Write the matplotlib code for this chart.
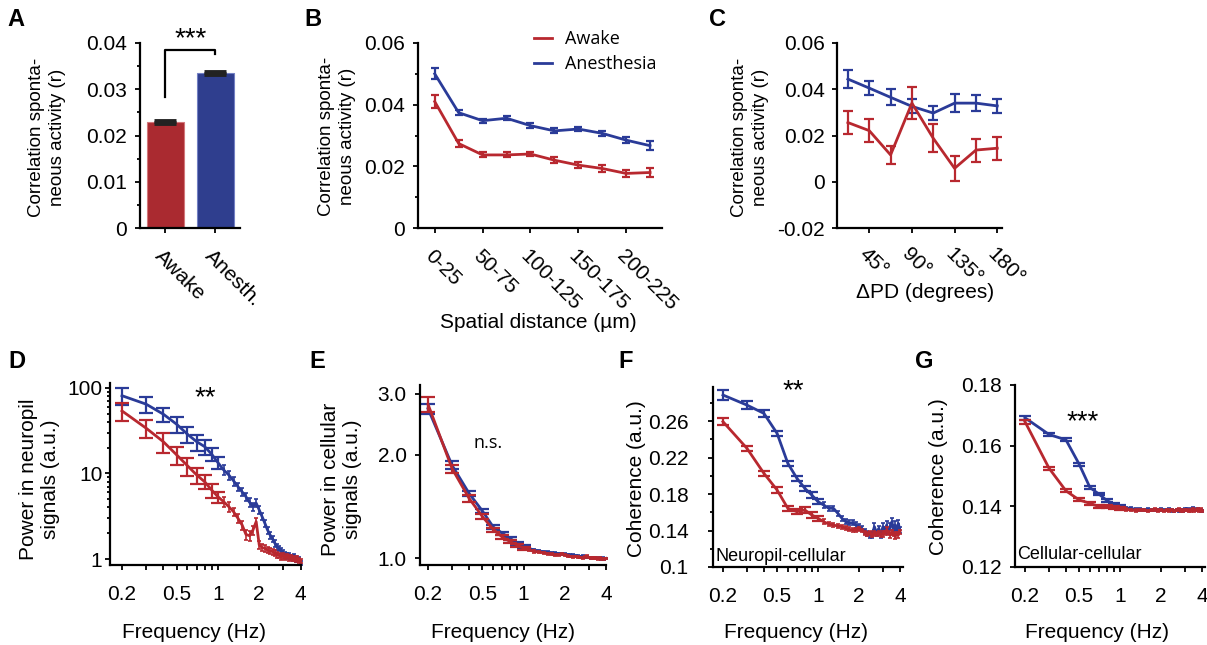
import matplotlib
matplotlib.use("Agg")
import matplotlib.pyplot as plt
from matplotlib.lines import Line2D
from matplotlib.ticker import FixedLocator, FixedFormatter, NullFormatter

plt.rcParams['font.family'] = ['Liberation Sans', 'DejaVu Sans']

W, H = 1207, 645
RED = '#B8282F'
BLUE = '#2A3B98'

# ---- A: mean correlation
bar_names = ['Awake', 'Anesth.']
bar_vals = [0.0229, 0.0335]
bar_err = [0.0003, 0.0002]

# ---- B: correlation vs spatial distance
dist_labels = ['0-25', '50-75', '100-125', '150-175', '200-225']
dist_awake = [0.0410, 0.0274, 0.0237, 0.0237, 0.0240, 0.0220, 0.0204, 0.0193, 0.0177, 0.0180]
dist_awake_err = [0.0020, 0.0010, 0.0008, 0.0008, 0.0008, 0.0009, 0.0009, 0.0010, 0.0011, 0.0015]
dist_anest = [0.0500, 0.0374, 0.0348, 0.0356, 0.0332, 0.0315, 0.0321, 0.0307, 0.0285, 0.0267]
dist_anest_err = [0.0018, 0.0008, 0.0007, 0.0007, 0.0007, 0.0008, 0.0008, 0.0009, 0.0010, 0.0015]

# ---- C: correlation vs preferred direction difference
dpd = [22.5, 45, 67.5, 90, 112.5, 135, 157.5, 180]
dpd_labels = ['45°', '90°', '135°', '180°']
dpd_awake = [0.0256, 0.0221, 0.0116, 0.0340, 0.0188, 0.0058, 0.0137, 0.0145]
dpd_awake_err = [0.0050, 0.0050, 0.0040, 0.0070, 0.0060, 0.0055, 0.0050, 0.0050]
dpd_anest = [0.0444, 0.0405, 0.0365, 0.0326, 0.0297, 0.0340, 0.0340, 0.0328]
dpd_anest_err = [0.0040, 0.0030, 0.0035, 0.0030, 0.0030, 0.0040, 0.0035, 0.0030]

# ---- D-G: spectra
freq = [0.2, 0.3, 0.4, 0.5, 0.6, 0.7, 0.8, 0.9, 1.0,
        1.1, 1.2, 1.3, 1.4, 1.5, 1.6, 1.7, 1.8, 1.9, 2.0,
        2.1, 2.2, 2.3, 2.4, 2.5, 2.6, 2.7, 2.8, 2.9, 3.0,
        3.1, 3.2, 3.3, 3.4, 3.5, 3.6, 3.7, 3.8, 3.9, 4.0]
freq_labels = ['0.2', '', '', '0.5', '', '', '', '', '1', '2', '', '4']

neu_anest = [81, 64.5, 49.3, 37.6, 28.7, 23.5, 20.6, 16.8, 13.4,
             11.0, 9.6, 8.2, 7.0, 6.1, 5.35, 4.6, 4.1, 4.5, 3.74,
             3.12, 2.61, 2.18, 1.91, 1.72, 1.53, 1.39, 1.33, 1.24, 1.17,
             1.12, 1.08, 1.10, 1.05, 1.03, 1.06, 1.00, 0.98, 1.00, 0.90]
neu_anest_err = [18, 13, 9, 8, 6, 5, 4, 3, 2.2,
                 1.5, 1.2, 1.0, 0.8, 0.7, 0.55, 0.5, 0.45, 0.5, 0.4,
                 0.3, 0.25, 0.2, 0.18, 0.15, 0.13, 0.12, 0.1, 0.1, 0.09,
                 0.08, 0.08, 0.08, 0.07, 0.07, 0.07, 0.07, 0.06, 0.06, 0.06]
neu_awake = [53.8, 33.8, 23.5, 16.5, 12.3, 9.6, 8.0, 6.4, 5.35,
             4.68, 4.09, 3.57, 2.99, 2.50, 1.94, 1.87, 2.18, 2.73, 1.46,
             1.36, 1.33, 1.27, 1.24, 1.22, 1.17, 1.13, 1.11, 1.06, 1.09,
             1.05, 1.08, 1.03, 1.05, 1.00, 1.02, 0.98, 1.01, 0.97, 0.95]
neu_awake_err = [13, 8, 6, 4, 3, 2, 1.5, 1.2, 0.8,
                 0.6, 0.5, 0.4, 0.35, 0.3, 0.25, 0.25, 0.25, 0.3, 0.15,
                 0.12, 0.12, 0.1, 0.1, 0.1, 0.09, 0.09, 0.08, 0.08, 0.08,
                 0.07, 0.07, 0.07, 0.07, 0.06, 0.06, 0.06, 0.06, 0.06, 0.06]

cel_anest = [2.72, 1.86, 1.54, 1.37, 1.23, 1.18, 1.14, 1.10, 1.08,
             1.065, 1.055, 1.048, 1.042, 1.038, 1.035, 1.032, 1.030, 1.028, 1.025,
             1.022, 1.020, 1.018, 1.015, 1.012, 1.010, 1.012, 1.008, 1.005, 1.003,
             1.000, 1.000, 1.002, 0.998, 0.997, 0.999, 0.996, 0.998, 0.995, 0.997]
cel_anest_err = [0.09, 0.05, 0.03, 0.02, 0.016, 0.013, 0.011, 0.010, 0.009,
                 0.008, 0.008, 0.007, 0.007, 0.007, 0.007, 0.006, 0.006, 0.006, 0.006,
                 0.006, 0.006, 0.006, 0.006, 0.006, 0.006, 0.006, 0.006, 0.006, 0.006,
                 0.006, 0.006, 0.006, 0.006, 0.006, 0.006, 0.006, 0.006, 0.006, 0.006]
cel_awake = [2.80, 1.82, 1.49, 1.32, 1.21, 1.15, 1.115, 1.09, 1.067,
             1.055, 1.045, 1.040, 1.035, 1.030, 1.025, 1.020, 1.022, 1.028, 1.020,
             1.012, 1.010, 1.008, 1.010, 1.005, 1.003, 1.000, 1.008, 1.012, 1.004,
             1.000, 1.002, 0.998, 1.000, 0.996, 0.998, 0.995, 0.997, 0.994, 0.997]
cel_awake_err = [0.14, 0.05, 0.03, 0.02, 0.016, 0.013, 0.011, 0.010, 0.009,
                 0.008, 0.008, 0.007, 0.007, 0.007, 0.007, 0.006, 0.006, 0.006, 0.006,
                 0.006, 0.006, 0.006, 0.006, 0.006, 0.006, 0.006, 0.006, 0.006, 0.006,
                 0.006, 0.006, 0.006, 0.006, 0.006, 0.006, 0.006, 0.006, 0.006, 0.006]

nc_anest = [0.2885, 0.2775, 0.2684, 0.2465, 0.2136, 0.1972, 0.1862, 0.1789, 0.1716,
            0.1680, 0.1643, 0.1643, 0.1588, 0.1534, 0.1496, 0.1485, 0.1485, 0.1460, 0.1442,
            0.1424, 0.1387, 0.1369, 0.1350, 0.1350, 0.1442, 0.1369, 0.1424, 0.1350, 0.1442,
            0.1406, 0.1460, 0.1387, 0.1442, 0.1497, 0.1387, 0.1460, 0.1387, 0.1478, 0.1406]
nc_anest_err = [0.005, 0.004, 0.004, 0.003, 0.003, 0.003, 0.003, 0.003, 0.003,
                0.003, 0.003, 0.003, 0.003, 0.003, 0.003, 0.003, 0.003, 0.003, 0.003,
                0.003, 0.003, 0.003, 0.003, 0.003, 0.004, 0.003, 0.003, 0.003, 0.004,
                0.003, 0.004, 0.003, 0.004, 0.004, 0.003, 0.004, 0.003, 0.004, 0.003]
nc_awake = [0.2593, 0.2301, 0.2027, 0.1844, 0.1643, 0.1606, 0.1625, 0.1570, 0.1534,
            0.1496, 0.1471, 0.1460, 0.1448, 0.1442, 0.1424, 0.1413, 0.1406, 0.1406, 0.1413,
            0.1400, 0.1376, 0.1363, 0.1376, 0.1350, 0.1369, 0.1363, 0.1376, 0.1350, 0.1363,
            0.1376, 0.1406, 0.1376, 0.1350, 0.1376, 0.1363, 0.1333, 0.1369, 0.1350, 0.1387]
nc_awake_err = [0.004, 0.003, 0.003, 0.003, 0.003, 0.003, 0.003, 0.003, 0.003,
                0.003, 0.002, 0.002, 0.002, 0.002, 0.002, 0.002, 0.002, 0.002, 0.002,
                0.002, 0.002, 0.002, 0.002, 0.002, 0.003, 0.002, 0.002, 0.002, 0.003,
                0.002, 0.003, 0.002, 0.003, 0.003, 0.002, 0.003, 0.002, 0.003, 0.002]

cc_anest = [0.1692, 0.1637, 0.1619, 0.1539, 0.1462, 0.1440, 0.1419, 0.1408, 0.1399,
            0.1395, 0.1393, 0.1390, 0.1390, 0.1388, 0.1390, 0.1387, 0.1388, 0.1387, 0.1390,
            0.1388, 0.1387, 0.1389, 0.1386, 0.1385, 0.1388, 0.1384, 0.1387, 0.1386, 0.1389,
            0.1392, 0.1388, 0.1390, 0.1393, 0.1390, 0.1387, 0.1390, 0.1388, 0.1386, 0.1385]
cc_awake = [0.1679, 0.1526, 0.1451, 0.1421, 0.1410, 0.1399, 0.1399, 0.1396, 0.1393,
            0.1390, 0.1388, 0.1386, 0.1388, 0.1387, 0.1385, 0.1387, 0.1389, 0.1386, 0.1388,
            0.1385, 0.1387, 0.1386, 0.1388, 0.1384, 0.1387, 0.1389, 0.1386, 0.1385, 0.1388,
            0.1387, 0.1384, 0.1386, 0.1390, 0.1385, 0.1388, 0.1391, 0.1386, 0.1389, 0.1385]
cc_err = [0.0006, 0.0005, 0.0005, 0.0005, 0.0004, 0.0004, 0.0004, 0.0004, 0.0004,
          0.0004, 0.0004, 0.0004, 0.0004, 0.0004, 0.0004, 0.0004, 0.0004, 0.0004, 0.0004,
          0.0004, 0.0004, 0.0004, 0.0004, 0.0004, 0.0004, 0.0004, 0.0004, 0.0004, 0.0004,
          0.0004, 0.0004, 0.0004, 0.0004, 0.0004, 0.0004, 0.0004, 0.0004, 0.0004, 0.0004]

fig = plt.figure(figsize=(W / 100, H / 100), dpi=100)


def add_ax(l, t, r, b):
    # axes from pixel box (left, top, right, bottom)
    ax = fig.add_axes([l / W, 1 - b / H, (r - l) / W, (b - t) / H])
    ax.spines['top'].set_visible(False)
    ax.spines['right'].set_visible(False)
    ax.spines['left'].set_linewidth(1.6)
    ax.spines['bottom'].set_linewidth(1.6)
    ax.tick_params(which='both', direction='out', width=1.3, labelsize=15)
    ax.tick_params(which='major', length=3.5)
    ax.tick_params(which='minor', length=2.5)
    return ax


def ftext(x, y, s, **kw):
    fig.text(x / W, 1 - y / H, s, **kw)


def freq_axis(ax, xlim):
    ax.set_xscale('log')
    ax.set_xlim(*xlim)
    ax.xaxis.set_major_locator(FixedLocator([0.2, 0.3, 0.4, 0.5, 0.6, 0.7, 0.8, 0.9, 1, 2, 3, 4]))
    ax.xaxis.set_major_formatter(FixedFormatter(freq_labels))
    ax.xaxis.set_minor_locator(FixedLocator([]))
    ax.tick_params(axis='x', pad=11)


def spectrum(ax, y, e, color, cap):
    ax.plot(freq, y, color=color, lw=2, clip_on=False)
    ax.errorbar(freq[:9], y[:9], yerr=e[:9], fmt='none', ecolor=color,
                elinewidth=1.6, capsize=cap, capthick=1.6, clip_on=False)
    ax.errorbar(freq[9:], y[9:], yerr=e[9:], fmt='none', ecolor=color,
                elinewidth=1.2, capsize=1.6, capthick=1.2, clip_on=False)


# ---------------- A
ax = add_ax(140, 43, 240, 228)
ax.bar([0, 1], bar_vals, width=0.74, color=['#AA2A30', '#2F3E8E'],
       edgecolor=['#D2777B', '#7380C4'], linewidth=0.8)
ax.errorbar([0, 1], bar_vals, yerr=bar_err, fmt='none', ecolor='#222222',
            elinewidth=2, capsize=8, capthick=3.5)
ax.set_xlim(-0.5, 1.5)
ax.set_ylim(0, 0.04)
ax.set_yticks([0, 0.01, 0.02, 0.03, 0.04])
ax.set_yticklabels(['0', '0.01', '0.02', '0.03', '0.04'])
ax.set_yticks([0.005, 0.015, 0.025, 0.035], minor=True)
ax.set_xticks([0, 1])
ax.set_xticklabels(bar_names, rotation=-45, ha='left', va='top', rotation_mode='anchor')
ax.tick_params(axis='x', pad=10)
ax.tick_params(axis='y', pad=6)
ax.plot([0, 0, 1, 1], [0.0283, 0.0385, 0.0385, 0.0377], color='k', lw=1.6, clip_on=False)
ax.text(0.52, 0.0392, '***', ha='center', va='baseline', fontsize=20, clip_on=False)
ftext(47, 137, 'Correlation sponta-\nneous activity (r)', rotation=90, ha='center',
      va='center', fontsize=13.5, linespacing=1.25)

# ---------------- B
ax = add_ax(418, 43, 662, 228)
xb = list(range(len(dist_awake)))
ax.errorbar(xb, dist_anest, yerr=dist_anest_err, color=BLUE, lw=2, elinewidth=1.6,
            capsize=3, capthick=1.6)
ax.errorbar(xb, dist_awake, yerr=dist_awake_err, color=RED, lw=2, elinewidth=1.6,
            capsize=3, capthick=1.6)
ax.set_xlim(-0.7, 9.5)
ax.set_ylim(0, 0.06)
ax.set_xticks([0, 2, 4, 6, 8])
ax.set_xticklabels(dist_labels, rotation=-45, ha='left', va='top', rotation_mode='anchor')
ax.set_yticks([0, 0.02, 0.04, 0.06])
ax.set_yticklabels(['0', '0.02', '0.04', '0.06'])
ax.set_yticks([0.01, 0.03, 0.05], minor=True)
ax.tick_params(axis='x', pad=10)
ax.tick_params(axis='y', pad=6)
handles = [Line2D([], [], color=RED, lw=2), Line2D([], [], color=BLUE, lw=2)]
ax.legend(handles, ['Awake', 'Anesthesia'], loc='upper left',
          bbox_to_anchor=(534 / W, 1 - 30 / H), bbox_transform=fig.transFigure,
          frameon=False, handlelength=1.0, handletextpad=0.7, borderpad=0,
          borderaxespad=0, labelspacing=0.4, prop={'family': 'Open Sans', 'size': 13})
ftext(337, 136, 'Correlation sponta-\nneous activity (r)', rotation=90, ha='center',
      va='center', fontsize=13.5, linespacing=1.25)
ftext(538, 323, 'Spatial distance (µm)', ha='center', va='center', fontsize=15)

# ---------------- C
ax = add_ax(837, 43, 1002, 228)
ax.errorbar(dpd, dpd_anest, yerr=dpd_anest_err, color=BLUE, lw=2, elinewidth=1.6,
            capsize=3.6, capthick=1.6)
ax.errorbar(dpd, dpd_awake, yerr=dpd_awake_err, color=RED, lw=2, elinewidth=1.6,
            capsize=3.6, capthick=1.6)
ax.set_xlim(11, 185)
ax.set_ylim(-0.02, 0.06)
ax.set_xticks([45, 90, 135, 180])
ax.set_xticklabels(dpd_labels, rotation=-45, ha='left', va='top', rotation_mode='anchor')
ax.set_yticks([-0.02, 0, 0.02, 0.04, 0.06])
ax.set_yticklabels(['-0.02', '0', '0.02', '0.04', '0.06'])
ax.tick_params(axis='x', pad=8)
ax.tick_params(axis='y', pad=5)
ftext(750, 137, 'Correlation sponta-\nneous activity (r)', rotation=90, ha='center',
      va='center', fontsize=13.5, linespacing=1.25)
ftext(925, 292, 'ΔPD (degrees)', ha='center', va='center', fontsize=15)

# ---------------- D
ax = add_ax(110, 383, 301, 565)
freq_axis(ax, (0.1636, 4.03))
ax.set_yscale('log')
ax.set_ylim(0.851, 114)
ax.yaxis.set_major_locator(FixedLocator([1, 10, 100]))
ax.yaxis.set_major_formatter(FixedFormatter(['1', '10', '100']))
ax.yaxis.set_minor_locator(FixedLocator([2, 3, 4, 5, 6, 7, 8, 9, 20, 30, 40, 50, 60, 70, 80, 90]))
ax.yaxis.set_minor_formatter(NullFormatter())
ax.tick_params(axis='y', pad=2)
spectrum(ax, neu_anest, neu_anest_err, BLUE, 5)
spectrum(ax, neu_awake, neu_awake_err, RED, 5)
ax.text(0.81, 62, '**', ha='center', va='baseline', fontsize=20)
ftext(40, 479, 'Power in neuropil\nsignals (a.u.)', rotation=90, ha='center', va='center',
      fontsize=15, linespacing=1.2)
ftext(194, 632, 'Frequency (Hz)', ha='center', va='center', fontsize=15)

# ---------------- E
ax = add_ax(420, 385, 606, 565)
freq_axis(ax, (0.1748, 4.0))
ax.set_yscale('log')
ax.set_ylim(0.9542, 3.186)
ax.yaxis.set_major_locator(FixedLocator([1, 2, 3]))
ax.yaxis.set_major_formatter(FixedFormatter(['1.0', '2.0', '3.0']))
ax.yaxis.set_minor_locator(FixedLocator([]))
ax.tick_params(axis='y', pad=6)
spectrum(ax, cel_anest, cel_anest_err, BLUE, 5)
spectrum(ax, cel_awake, cel_awake_err, RED, 5)
ax.text(0.552, 2.16, 'n.s.', ha='center', va='center', fontsize=13, family='Open Sans')
ftext(342, 479, 'Power in cellular\nsignals (a.u.)', rotation=90, ha='center', va='center',
      fontsize=15, linespacing=1.2)
ftext(503, 632, 'Frequency (Hz)', ha='center', va='center', fontsize=15)

# ---------------- F
ax = add_ax(713, 387, 903, 567)
freq_axis(ax, (0.1689, 4.22))
ax.set_ylim(0.1, 0.2973)
ax.set_yticks([0.1, 0.14, 0.18, 0.22, 0.26])
ax.set_yticklabels(['0.1', '0.14', '0.18', '0.22', '0.26'])
ax.set_yticks([0.12, 0.16, 0.20, 0.24, 0.28], minor=True)
ax.tick_params(axis='y', pad=14)
spectrum(ax, nc_anest, nc_anest_err, BLUE, 4)
spectrum(ax, nc_awake, nc_awake_err, RED, 4)
ax.text(0.654, 0.2855, '**', ha='center', va='baseline', fontsize=20, clip_on=False)
ax.text(0.176, 0.112, 'Neuropil-cellular', ha='left', va='center', fontsize=13)
ftext(637, 479, 'Coherence (a.u.)', rotation=90, ha='center', va='center', fontsize=15)
ftext(796, 632, 'Frequency (Hz)', ha='center', va='center', fontsize=15)

# ---------------- G
ax = add_ax(1015, 385, 1205, 567)
freq_axis(ax, (0.1689, 4.2))
ax.set_ylim(0.12, 0.18)
ax.set_yticks([0.12, 0.14, 0.16, 0.18])
ax.set_yticklabels(['0.12', '0.14', '0.16', '0.18'])
ax.tick_params(axis='y', pad=6)
spectrum(ax, cc_anest, cc_err, BLUE, 4)
spectrum(ax, cc_awake, cc_err, RED, 4)
ax.text(0.534, 0.1655, '***', ha='center', va='baseline', fontsize=20)
ax.text(0.176, 0.124, 'Cellular-cellular', ha='left', va='center', fontsize=13)
ftext(938, 477, 'Coherence (a.u.)', rotation=90, ha='center', va='center', fontsize=15)
ftext(1097, 632, 'Frequency (Hz)', ha='center', va='center', fontsize=15)

# panel letters
for x, y, s in [(16, 20, 'A'), (313, 20, 'B'), (718, 20, 'C'), (17, 362, 'D'),
                (317, 362, 'E'), (626, 362, 'F'), (924, 362, 'G')]:
    ftext(x, y, s, ha='center', va='center', fontsize=17, fontweight='bold')

fig.savefig('out.png', dpi=100)
